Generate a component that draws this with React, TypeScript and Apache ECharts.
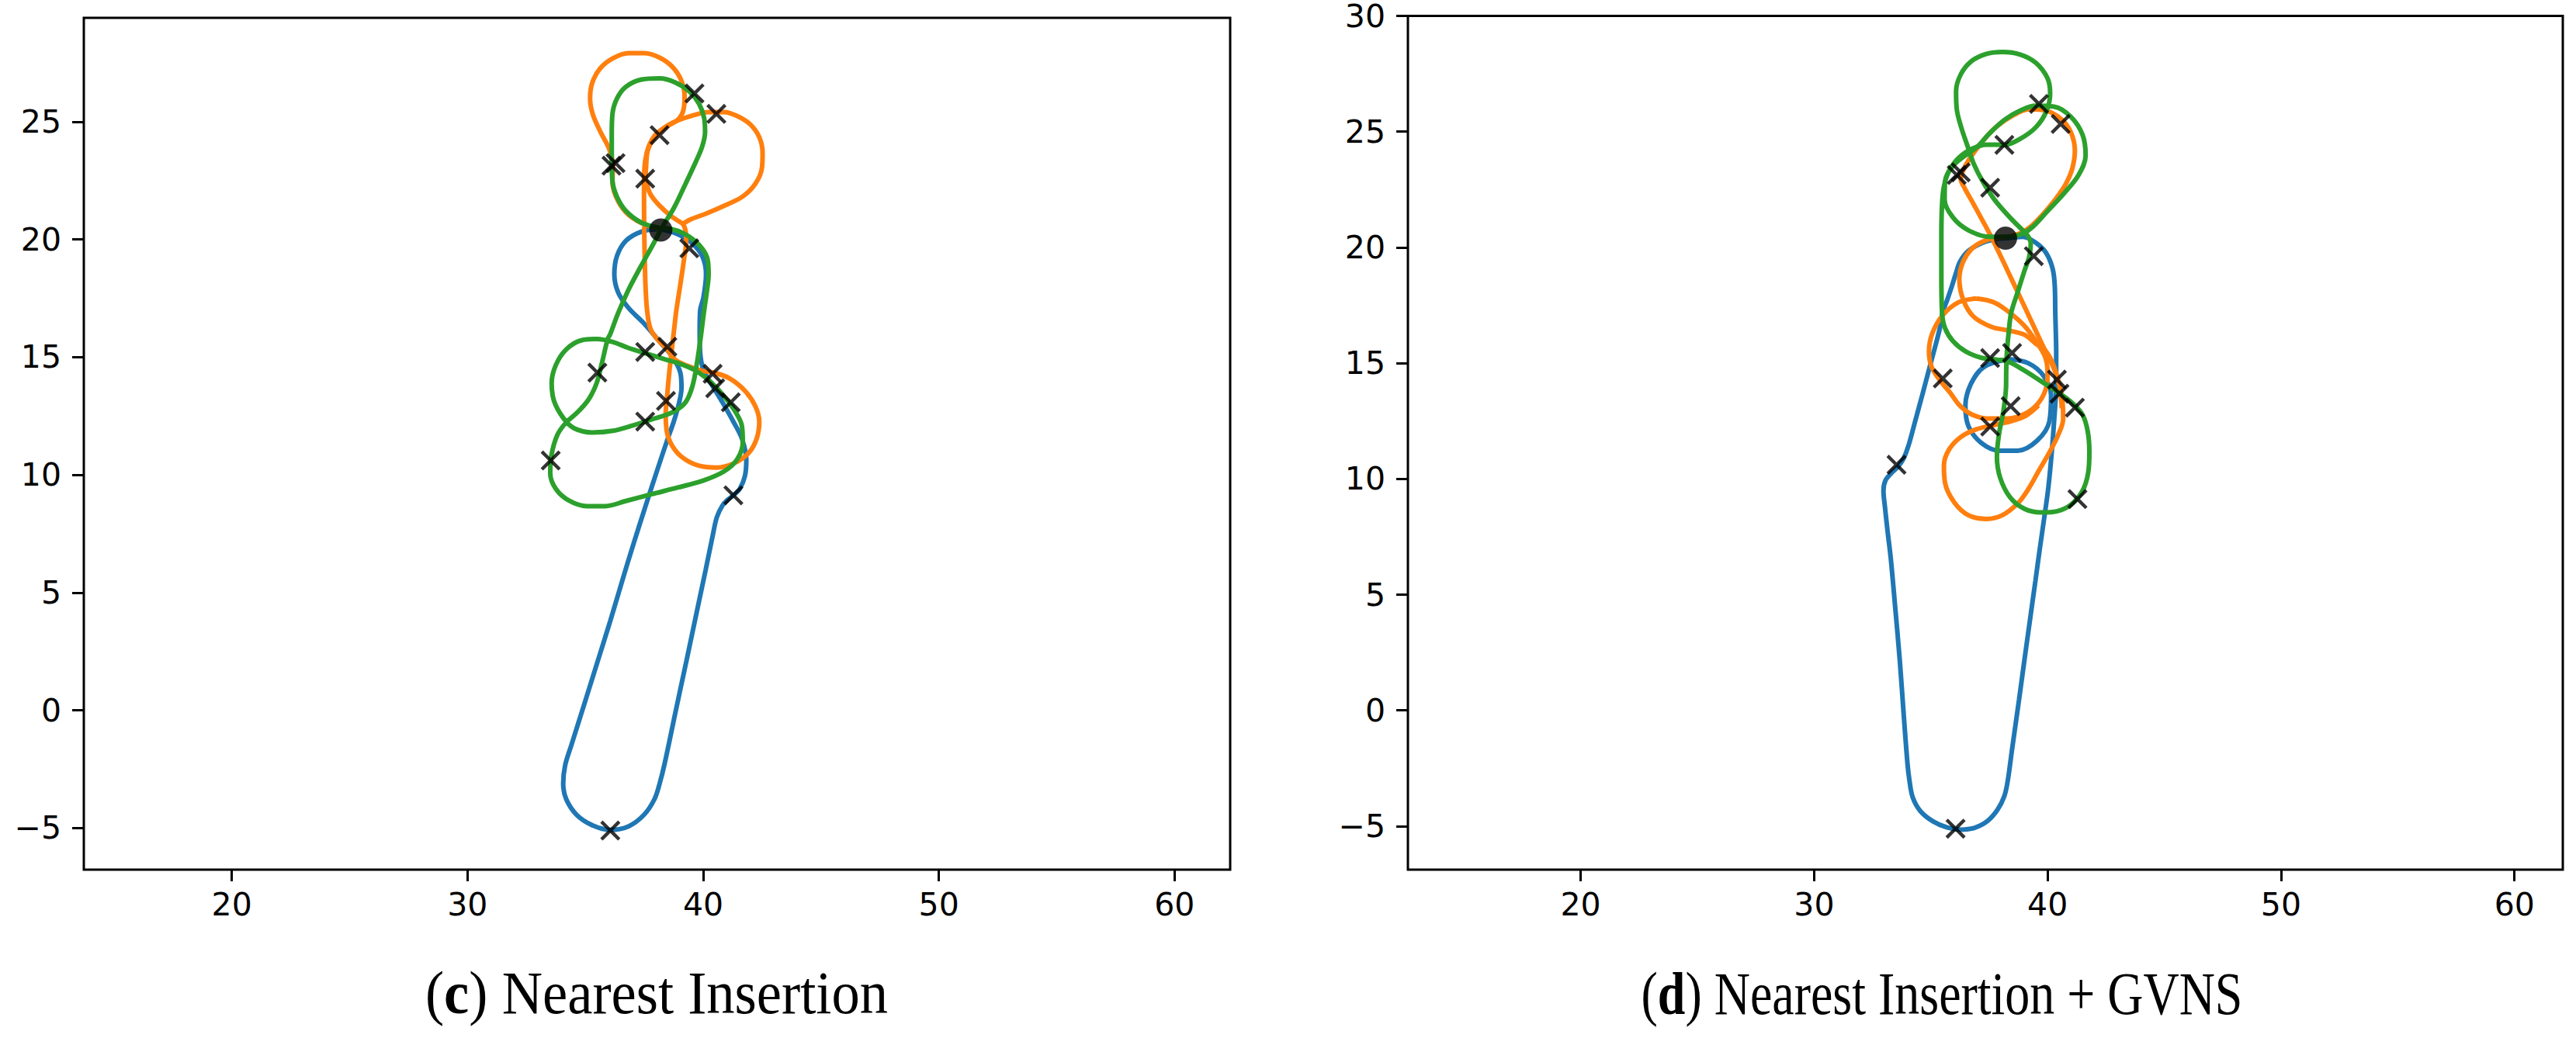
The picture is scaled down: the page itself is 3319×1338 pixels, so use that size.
import React, { useEffect, useRef } from "react";
import * as echarts from "echarts";

// ---------- tick values ----------
const xTicks = [20, 30, 40, 50, 60];
const yTicksLeft = [-5, 0, 5, 10, 15, 20, 25];
const yTicksRight = [-5, 0, 5, 10, 15, 20, 25, 30];

// ---------- targets (same instance in both panels) ----------
const targets = [
  [39.63, 26.2], [40.56, 25.33], [38.15, 24.43], [36.11, 23.13], [36.28, 23.24],
  [37.54, 22.58], [39.41, 19.62], [37.54, 15.22], [38.48, 15.44], [35.51, 14.34],
  [40.4, 14.29], [40.51, 13.68], [41.17, 13.08], [38.42, 13.14], [37.54, 12.26],
  [33.53, 10.61], [41.28, 9.13], [36.06, -5.11],
];
const depot = [[38.2, 20.4]];

// ---------- (c) Nearest Insertion ----------
const blueNI = [
  [38.15, 20.44], [37.38, 20.33], [36.72, 19.94], [36.34, 19.29], [36.23, 18.52], [36.39, 17.75],
  [36.83, 17.09], [37.49, 16.43], [38.15, 15.66], [38.7, 15.0], [39.03, 14.34], [39.08, 13.69],
  [38.97, 13.03], [38.75, 12.26], [38.48, 11.49], [38.04, 10.17], [37.54, 8.63], [37.05, 7.09],
  [36.55, 5.45], [36.06, 3.8], [35.51, 2.04], [34.96, 0.28], [34.41, -1.47], [34.14, -2.35],
  [34.06, -3.12], [34.19, -3.78], [34.63, -4.44], [35.29, -4.88], [36.06, -5.08], [36.83, -4.93],
  [37.49, -4.44], [37.93, -3.78], [38.15, -3.12], [38.37, -2.24], [38.83, -0.05], [39.3, 2.15],
  [39.74, 4.24], [40.11, 5.99], [40.4, 7.4], [40.58, 8.2], [40.82, 8.7], [41.05, 8.95],
  [41.28, 9.13], [41.55, 9.4], [41.77, 9.95], [41.83, 10.61], [41.66, 11.49], [41.28, 12.26],
  [40.78, 13.14], [40.35, 13.85], [40.01, 14.45], [39.87, 15.22], [39.85, 16.1], [39.87, 16.98],
  [40.01, 17.53], [40.12, 18.52], [39.96, 19.29], [39.47, 19.89], [38.81, 20.27], [38.15, 20.44],
];
const orangeNI_A = [
  [38.15, 20.44], [37.38, 20.69], [36.72, 21.15], [36.3, 21.81], [36.15, 22.47], [36.17, 23.13],
  [36.01, 23.84], [35.62, 24.61], [35.31, 25.33], [35.2, 25.98], [35.29, 26.64], [35.62, 27.25],
  [36.17, 27.69], [36.83, 27.91], [37.49, 27.91], [38.15, 27.72], [38.7, 27.32], [39.08, 26.73],
  [39.21, 26.07], [39.16, 25.49], [38.92, 25.08], [38.42, 24.78], [37.98, 24.45], [37.69, 23.95],
  [37.54, 23.35], [37.49, 22.47], [37.49, 21.37], [37.5, 20.27], [37.52, 19.18], [37.55, 18.08],
  [37.62, 16.98], [37.76, 16.21], [38.04, 15.77], [38.42, 15.39], [38.81, 14.89], [39.36, 14.62],
  [39.9, 14.43], [40.45, 14.34], [41.11, 14.1], [41.77, 13.57], [42.21, 12.92], [42.38, 12.26],
  [42.27, 11.54], [41.94, 10.94], [41.33, 10.5], [40.56, 10.31], [39.8, 10.39], [39.14, 10.72],
  [38.7, 11.21], [38.46, 11.82], [38.41, 12.59], [38.48, 13.46], [38.56, 14.34], [38.67, 15.33],
  [38.77, 16.21], [38.86, 16.98], [39.03, 18.08], [39.19, 19.18], [39.28, 19.94], [39.25, 20.38],
  [39.14, 20.66],
];
const orangeNI_B = [
  [37.54, 22.25], [37.58, 23.13], [37.65, 23.79], [37.93, 24.34], [38.37, 24.76], [38.92, 25.05],
  [39.58, 25.27], [40.23, 25.41], [40.89, 25.41], [41.44, 25.24], [41.99, 24.89], [42.38, 24.34],
  [42.52, 23.68], [42.49, 23.02], [42.21, 22.36], [41.66, 21.81], [40.89, 21.43], [40.13, 21.1],
  [39.47, 20.85], [39.14, 20.66],
];
const orangeNI_C = [
  [37.58, 22.47], [37.76, 21.92], [38.15, 21.43], [38.64, 20.99], [39.14, 20.66],
];
const greenNI = [
  [38.15, 20.49], [37.38, 20.71], [36.72, 21.21], [36.34, 21.81], [36.15, 22.47], [36.12, 23.35],
  [36.12, 24.45], [36.15, 25.33], [36.34, 25.98], [36.72, 26.48], [37.38, 26.79], [38.15, 26.84],
  [38.81, 26.67], [39.41, 26.29], [39.82, 25.77], [40.04, 25.16], [40.08, 24.56], [39.96, 23.95],
  [39.71, 23.35], [39.25, 22.36], [38.75, 21.32], [38.31, 20.6], [37.87, 19.78], [37.32, 18.79],
  [36.83, 17.86], [36.39, 16.87], [36.06, 15.99], [35.95, 15.77], [35.71, 14.78], [35.48, 13.9],
  [35.13, 13.19], [34.65, 12.64], [34.19, 12.23], [33.81, 11.69], [33.56, 10.83], [33.51, 10.06],
  [33.75, 9.4], [34.3, 8.91], [35.07, 8.67], [35.84, 8.67], [36.72, 8.89], [37.82, 9.18],
  [38.92, 9.46], [40.01, 9.76], [40.89, 10.15], [41.44, 10.66], [41.68, 11.38], [41.64, 12.09],
  [41.39, 12.64], [41.0, 13.19], [40.56, 13.71], [40.07, 14.16], [39.58, 14.48], [39.03, 14.71],
  [38.37, 14.91], [37.6, 15.15], [36.83, 15.39], [36.17, 15.64], [35.51, 15.77], [34.85, 15.72],
  [34.19, 15.33], [33.75, 14.67], [33.57, 13.9], [33.67, 13.14], [34.06, 12.42], [34.52, 11.98],
  [35.29, 11.8], [36.17, 11.87], [37.05, 12.11], [37.93, 12.39], [38.7, 12.66], [39.25, 13.08],
  [39.55, 13.79], [39.74, 14.78], [39.9, 15.88], [40.04, 16.98], [40.15, 17.75], [40.23, 18.52],
  [40.18, 19.18], [39.96, 19.61], [39.58, 19.99], [39.14, 20.27], [38.64, 20.44], [38.15, 20.49],
];

// ---------- (d) Nearest Insertion + GVNS ----------
const blueGV = [
  [38.28, 20.4], [38.94, 20.46], [39.5, 20.2], [39.94, 19.76], [40.22, 19.07], [40.31, 18.29],
  [40.33, 17.17], [40.36, 16.06], [40.37, 15.5], [40.36, 13.83], [40.28, 12.5], [40.17, 11.05],
  [40.03, 9.6], [39.85, 8.27], [39.66, 6.93], [39.48, 5.6], [39.08, 2.7],
  [38.78, 0.48], [38.47, -1.75], [38.3, -3.0], [38.15, -3.7], [37.85, -4.3], [37.4, -4.8],
  [36.85, -5.08], [36.3, -5.15], [35.7, -5.06], [35.1, -4.8], [34.55, -4.35], [34.22, -3.75],
  [34.08, -3.0], [34.0, -2.31], [33.83, -0.08], [33.67, 2.15], [33.48, 4.37], [33.28, 6.6],
  [33.15, 7.71], [33.03, 8.82], [32.97, 9.49], [33.06, 9.94], [33.33, 10.27], [33.56, 10.49],
  [33.83, 10.88], [34.06, 11.5], [34.33, 12.5], [34.63, 13.61], [34.92, 14.72], [35.19, 15.73],
  [35.41, 16.62], [35.5, 17.17], [35.7, 17.73], [35.89, 18.29], [36.06, 18.84], [36.26, 19.4],
  [36.61, 19.85], [37.17, 20.18], [37.72, 20.35], [38.28, 20.4],
];
const blueGVLoop = [
  [38.33, 15.17], [39.17, 15.0], [39.83, 14.45], [40.15, 13.61], [40.08, 12.5], [39.56, 11.66],
  [38.72, 11.22], [37.94, 11.22], [37.17, 11.55], [36.61, 12.28], [36.48, 13.17], [36.72, 14.11],
  [37.28, 14.84], [38.33, 15.17],
];
const orangeGV_A = [
  [38.28, 20.46], [38.83, 20.62], [39.28, 20.9], [39.83, 21.46], [40.33, 22.07], [40.78, 22.74],
  [41.06, 23.41], [41.17, 24.19], [41.0, 24.97], [40.61, 25.52], [39.94, 25.91], [39.22, 25.97],
  [38.5, 25.69], [37.78, 25.19], [37.17, 24.52], [36.67, 23.85], [36.37, 23.3], [36.28, 22.96],
  [36.44, 22.57], [36.78, 21.96], [37.17, 21.24], [37.56, 20.51], [37.94, 19.73], [38.33, 18.9],
  [38.72, 18.07], [39.11, 17.23], [39.5, 16.39], [39.89, 15.56], [40.22, 14.89], [40.48, 14.17],
  [40.63, 13.39], [40.67, 12.61], [40.45, 11.89], [40.06, 11.11], [39.61, 10.33], [39.17, 9.55],
  [38.72, 8.94], [38.06, 8.43], [37.39, 8.27], [36.61, 8.43], [36.0, 8.99], [35.61, 9.82],
  [35.56, 10.59], [35.78, 11.27], [36.28, 11.81], [36.94, 12.14], [37.72, 12.33], [38.39, 12.48],
  [39.06, 12.72], [39.61, 13.17],
];
const orangeGV_B = [
  [38.28, 20.46], [37.5, 20.35], [36.83, 20.01], [36.39, 19.4], [36.22, 18.62], [36.39, 17.73],
  [36.83, 17.01], [37.61, 16.56], [38.28, 16.42], [39.0, 16.23], [39.5, 15.84], [39.94, 15.5],
  [40.28, 14.84], [40.52, 13.95], [40.61, 13.05],
];
const orangeGV_C = [
  [36.94, 17.79], [37.72, 17.62], [38.39, 17.17], [39.0, 16.62], [39.5, 15.95], [39.89, 15.28],
  [40.0, 14.61], [39.94, 13.94], [39.61, 13.28], [39.06, 12.83], [38.28, 12.61], [37.39, 12.61],
  [36.72, 12.8], [36.22, 13.19], [35.83, 13.72], [35.39, 14.26], [35.03, 14.84], [34.92, 15.5],
  [35.06, 16.28], [35.5, 17.06], [36.17, 17.62], [36.94, 17.79],
];
const greenGV_A = [
  [39.06, 20.62], [38.39, 21.29], [37.72, 22.07], [37.22, 22.85], [36.83, 23.63], [36.56, 24.41],
  [36.3, 25.19], [36.11, 25.97], [36.08, 26.75], [36.28, 27.47], [36.72, 28.03], [37.39, 28.36],
  [38.06, 28.44], [38.83, 28.33], [39.5, 27.97], [40.0, 27.3], [40.11, 26.64], [39.94, 25.86],
  [39.5, 25.19], [38.83, 24.69], [38.17, 24.43], [37.39, 24.44], [36.72, 24.24], [36.17, 23.85],
  [35.78, 23.3], [35.56, 22.63], [35.48, 21.85], [35.45, 20.51], [35.45, 18.84], [35.48, 17.17],
  [35.61, 16.51], [35.95, 15.95], [36.5, 15.5], [37.17, 15.23], [37.83, 15.15], [38.22, 15.11],
  [38.94, 14.72], [39.72, 14.22], [40.39, 13.78], [41.06, 13.28], [41.5, 12.77], [41.72, 12.05],
  [41.79, 11.16], [41.74, 10.27], [41.5, 9.49], [41.0, 8.88], [40.39, 8.6], [39.72, 8.55],
  [39.0, 8.71], [38.39, 9.21], [37.97, 10.05], [37.83, 10.94], [37.92, 11.94], [38.11, 12.94],
  [38.22, 13.96], [38.23, 14.72], [38.26, 15.5], [38.33, 16.28], [38.44, 17.17], [38.72, 18.07],
  [39.0, 18.96], [39.22, 19.62], [39.28, 20.18], [39.06, 20.62],
];
const greenGV_B = [
  [39.06, 20.65], [38.39, 20.46], [37.5, 20.46], [36.61, 20.74], [35.95, 21.29], [35.59, 22.07],
  [35.61, 22.85], [35.89, 23.46], [36.39, 23.91], [36.94, 24.3], [37.5, 24.91], [38.17, 25.52],
  [38.83, 25.91], [39.5, 26.12], [40.28, 26.08], [41.0, 25.64], [41.5, 24.86], [41.63, 23.97],
  [41.33, 23.13], [40.72, 22.35], [40.0, 21.57], [39.44, 20.96], [39.06, 20.65],
];

const BLUE = "#1f77b4";
const ORANGE = "#ff7f0e";
const GREEN = "#2ca02c";
const X_PATH =
  "path://M1.2,0 L5,3.8 L8.8,0 L10,1.2 L6.2,5 L10,8.8 L8.8,10 L5,6.2 L1.2,10 L0,8.8 L3.8,5 L0,1.2 Z";

const fmt = (v: number) => (v < 0 ? "\u2212" + Math.abs(v) : String(v));

function line(data: number[][], color: string, idx: number) {
  return {
    type: "line",
    xAxisIndex: idx,
    yAxisIndex: idx,
    data,
    symbol: "none",
    showSymbol: false,
    smooth: 0.35,
    silent: true,
    lineStyle: { color, width: 6 },
    z: 2,
  };
}

function markers(idx: number) {
  return [
    {
      type: "scatter",
      xAxisIndex: idx,
      yAxisIndex: idx,
      data: targets,
      symbol: X_PATH,
      symbolSize: 26,
      itemStyle: { color: "#000" },
      silent: true,
      z: 5,
    },
    {
      type: "scatter",
      xAxisIndex: idx,
      yAxisIndex: idx,
      data: depot,
      symbol: "circle",
      symbolSize: 30,
      itemStyle: { color: "#000" },
      silent: true,
      z: 6,
    },
  ];
}

function xAxis(idx: number, min: number, max: number) {
  return {
    type: "value",
    gridIndex: idx,
    min,
    max,
    axisLine: { show: false, onZero: false },
    splitLine: { show: false },
    axisTick: {
      show: true,
      length: 15,
      lineStyle: { color: "#000", width: 3 },
      customValues: xTicks,
    },
    axisLabel: {
      customValues: xTicks,
      formatter: fmt,
      fontSize: 41,
      fontFamily: "DejaVu Sans",
      color: "#000",
      margin: 24,
    },
  };
}

function yAxis(idx: number, min: number, max: number, ticks: number[]) {
  return {
    type: "value",
    gridIndex: idx,
    min,
    max,
    axisLine: { show: false, onZero: false },
    splitLine: { show: false },
    axisTick: {
      show: true,
      length: 15,
      lineStyle: { color: "#000", width: 3 },
      customValues: ticks,
    },
    axisLabel: {
      customValues: ticks,
      formatter: fmt,
      fontSize: 41,
      fontFamily: "DejaVu Sans",
      color: "#000",
      margin: 29,
    },
  };
}

function caption(x: number, sx: number, letter: string, rest: string) {
  return {
    type: "text",
    x,
    y: 1280,
    scaleX: sx,
    style: {
      text: "({b|" + letter + "}) " + rest,
      rich: {
        b: {
          fontWeight: "bold",
          fontSize: 78,
          fontFamily: "Liberation Serif",
          fill: "#000",
        },
      },
      fontSize: 78,
      fontFamily: "Liberation Serif",
      fill: "#000",
      align: "center",
      verticalAlign: "middle",
      textAlign: "center",
      textVerticalAlign: "middle",
    },
  };
}

export default function App() {
  const ref = useRef<HTMLDivElement>(null);
  useEffect(() => {
    if (!ref.current) return;
    const chart = echarts.init(ref.current, undefined, { renderer: "svg" });
    chart.setOption({
      animation: false,
      backgroundColor: "#fff",
      grid: [
        {
          left: 108,
          top: 23,
          width: 1477,
          height: 1098,
          show: true,
          borderColor: "#000",
          borderWidth: 3,
          backgroundColor: "transparent",
        },
        {
          left: 1814,
          top: 16,
          width: 1488,
          height: 1105,
          show: true,
          borderColor: "#000",
          borderWidth: 3,
          backgroundColor: "transparent",
        },
      ],
      xAxis: [xAxis(0, 13.72, 62.36), xAxis(1, 12.6, 62.07)],
      yAxis: [
        yAxis(0, -6.77, 29.41, yTicksLeft),
        yAxis(1, -6.88, 30, yTicksRight),
      ],
      series: [
        line(blueNI, BLUE, 0),
        line(orangeNI_A, ORANGE, 0),
        line(orangeNI_B, ORANGE, 0),
        line(orangeNI_C, ORANGE, 0),
        line(greenNI, GREEN, 0),
        ...markers(0),
        line(blueGV, BLUE, 1),
        line(blueGVLoop, BLUE, 1),
        line(orangeGV_A, ORANGE, 1),
        line(orangeGV_B, ORANGE, 1),
        line(orangeGV_C, ORANGE, 1),
        line(greenGV_A, GREEN, 1),
        line(greenGV_B, GREEN, 1),
        ...markers(1),
      ],
      graphic: [
        caption(846, 0.93, "c", "Nearest Insertion"),
        caption(2502, 0.82, "d", "Nearest Insertion + GVNS"),
      ],
    });
    return () => chart.dispose();
  }, []);
  return (
    <div
      ref={ref}
      style={{ position: "absolute", left: 0, top: 0, width: 3319, height: 1338 }}
    />
  );
}
